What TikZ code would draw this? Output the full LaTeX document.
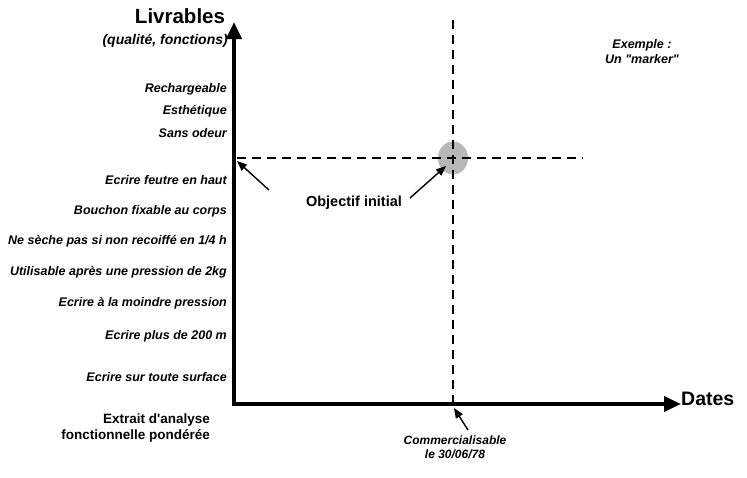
\documentclass[tikz,border=0pt]{standalone}
\usepackage{fontspec}
\setmainfont{Liberation Sans}[Ligatures=TeXOff]
\usetikzlibrary{positioning,arrows.meta}
\tikzset{
  critere/.style={anchor=east,inner sep=0pt,font=\bfseries\itshape\fontsize{12.5}{14}\selectfont},
  titre/.style={inner sep=0pt,font=\bfseries\fontsize{20.5}{24}\selectfont},
  note/.style={inner sep=0pt,align=center,font=\bfseries\fontsize{13.5}{16}\selectfont},
  axe/.style={line width=4.2pt,{Triangle[length=17pt,width=15pt]}-{Triangle[length=17pt,width=15pt]}},
  repere/.style={line width=2.8pt,dash pattern=on 9pt off 6pt},
  fleche/.style={line width=1.4pt,-{Triangle[length=10pt,width=8pt]}}
}
\begin{document}
\begin{tikzpicture}[x=1pt,y=-1pt]
\useasboundingbox (0,0) rectangle (747,477);

\coordinate (origine) at (234,404);
\coordinate (haut) at (234,22);
\coordinate (droite) at (681,404);
\coordinate (objectif) at (453,158);

\fill[black!28] (objectif) ellipse (15 and 16.5);
\draw[repere] (453,20) -- (453,404);
\draw[repere] (237,158) -- (583,158);
\draw[axe] (haut) -- (origine) -- (droite);

\node[titre] (livrables) at (180,16) {Livrables};
\node[critere,font=\bfseries\itshape\fontsize{14}{17}\selectfont] (qualite) at (228,41) {(qualité, fonctions)};
\node[titre,anchor=west,font=\bfseries\fontsize{19.5}{23}\selectfont] (dates) at (681,399) {Dates};

\node[critere] (rechargeable) at (227,89) {Rechargeable};
\node[critere] (esthetique) at (227,111) {Esthétique};
\node[critere] (odeur) at (227,133) {Sans odeur};
\node[critere] (feutre) at (227,180) {Ecrire feutre en haut};
\node[critere] (bouchon) at (227,211) {Bouchon fixable au corps};
\node[critere] (seche) at (227,241) {Ne sèche pas si non recoiffé en 1/4 h};
\node[critere] (pression) at (227,272) {Utilisable après une pression de 2kg};
\node[critere] (moindre) at (227,303) {Ecrire à la moindre pression};
\node[critere] (longueur) at (227,336) {Ecrire plus de 200 m};
\node[critere] (surface) at (227,377) {Ecrire sur toute surface};

\node[note,align=right,anchor=east] (extrait) at (210,428) {Extrait d'analyse\\fonctionnelle pondérée};
\node[note,font=\bfseries\fontsize{14.5}{17}\selectfont] (initial) at (354,203) {Objectif initial};
\node[note,font=\bfseries\itshape\fontsize{12}{14}\selectfont] (commercial) at (455,447) {Commercialisable\\le 30/06/78};
\node[note,font=\bfseries\itshape\fontsize{12.5}{15}\selectfont] (exemple) at (642,52) {Exemple :\\Un "marker"};

\coordinate (niveau) at (237,161);
\coordinate (cible) at (446,166);
\coordinate (date) at (454,408);
\coordinate (queueA) at (269,190);
\coordinate (queueB) at (410,198);
\coordinate (queueC) at (468,430);

\draw[fleche] (queueA) -- (niveau);
\draw[fleche] (queueB) -- (cible);
\draw[fleche] (queueC) -- (date);
\end{tikzpicture}
\end{document}
